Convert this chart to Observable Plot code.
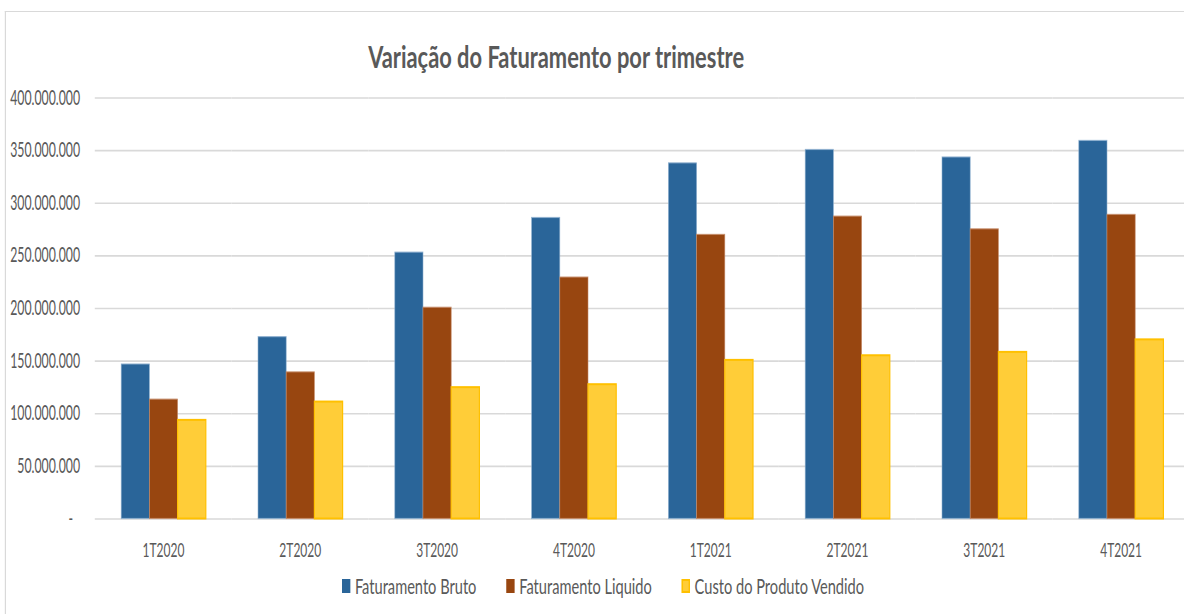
<!DOCTYPE html>
<html>
<head>
<meta charset="utf-8">
<script src="https://cdn.jsdelivr.net/npm/d3@7"></script>
<script src="https://cdn.jsdelivr.net/npm/@observablehq/plot@0.6"></script>
<style>
  html, body { margin: 0; padding: 0; background: #fff; overflow: hidden; width: 1184px; height: 614px; }
  #wrap { position: absolute; left: 0; top: 0; width: 2000px; height: 614px; transform: scale(0.6, 1); transform-origin: 0 0; font-family: Lato, "Liberation Sans", sans-serif; color: #595959; }
  #frame { position: absolute; left: 8px; top: 11px; width: 3000px; height: 1000px; border-left: 2.5px solid #d9d9d9; border-top: 1.5px solid #d9d9d9; }
  #title { position: absolute; left: 0; width: 1853px; top: 36px; text-align: center; font-size: 30px; font-weight: bold; line-height: 40px; color: #595959; }
  #title span { display: inline-block; transform: scaleX(1.215); transform-origin: 50% 50%; }
  #chart { position: absolute; left: 0; top: 0; }
  #legend { position: absolute; left: 570px; top: 574px; display: flex; align-items: center; font-size: 21px; line-height: 24px; color: #595959; white-space: nowrap; transform: scaleX(1.16); transform-origin: 0 50%; }
  .item { display: flex; align-items: center; margin-right: 43px; }
  .sw { width: 11.5px; height: 14px; margin-right: 7px; box-sizing: border-box; }
</style>
</head>
<body>
<div id="wrap">
  <div id="frame"></div>
  <div id="chart"></div>
  <div id="title"><span>Variação do Faturamento por trimestre</span></div>
  <div id="legend"></div>
</div>
<script>
const quarters = ["1T2020", "2T2020", "3T2020", "4T2020", "1T2021", "2T2021", "3T2021", "4T2021"];
const series = ["Faturamento Bruto", "Faturamento Liquido", "Custo do Produto Vendido"];
const bruto   = [146.8e6, 172.8e6, 253.1e6, 286.0e6, 337.9e6, 350.6e6, 343.5e6, 359.2e6];
const liquido = [113.4e6, 139.3e6, 200.7e6, 229.4e6, 269.9e6, 287.3e6, 275.2e6, 288.9e6];
const custo   = [93.7e6, 111.1e6, 124.8e6, 127.6e6, 150.7e6, 155.1e6, 158.3e6, 170.2e6];
const yTicks = [0, 50e6, 100e6, 150e6, 200e6, 250e6, 300e6, 350e6, 400e6];
const fills   = ["#2a6599", "#984610", "#ffcd38"];
const strokes = ["#8fb0cf", "#c48a66", "#ffc000"];

const values = [bruto, liquido, custo];
const data = quarters.flatMap((q, i) => series.map((s, j) => ({q, s, v: values[j][i]})));

const fmt = d => d === 0 ? "-\u2007" : d3.format(",")(d).replace(/,/g, ".");

const chart = Plot.plot({
  width: 2000,
  height: 570,
  marginLeft: 157,
  marginRight: 18,
  marginTop: 97.5,
  marginBottom: 51.5,
  style: {fontFamily: "Lato, 'Liberation Sans', sans-serif", fontSize: "20px", color: "#595959", background: "transparent"},
  fx: {domain: quarters, paddingInner: 0, paddingOuter: 0, label: null, axis: "bottom", tickSize: 0, tickPadding: 24},
  x: {domain: series, axis: null, paddingInner: 0, paddingOuter: 0.925},
  y: {domain: [0, 400e6], axis: null},
  marks: [
    Plot.ruleY(yTicks, {stroke: "#d9d9d9", strokeWidth: 1.6}),
    Plot.axisY(yTicks, {tickSize: 0, tickPadding: 25, tickFormat: fmt, fontSize: 20.5, label: null, fill: "#595959"}),
    ...series.map((s, j) => Plot.barY(data.filter(d => d.s === s), {
      fx: "q", x: "s", y: "v", fill: fills[j], stroke: strokes[j], strokeWidth: j === 2 ? 2 : 1.2, strokeOpacity: j === 2 ? 1 : 0.8
    }))
  ]
});
document.getElementById("chart").appendChild(chart);

const legend = document.getElementById("legend");
series.forEach((s, j) => {
  const item = document.createElement("div");
  item.className = "item";
  const sw = document.createElement("div");
  sw.className = "sw";
  sw.style.background = fills[j];
  sw.style.border = j === 2 ? "2px solid " + strokes[j] : "none";
  const t = document.createElement("span");
  t.textContent = s;
  item.appendChild(sw);
  item.appendChild(t);
  legend.appendChild(item);
});
</script>
</body>
</html>
